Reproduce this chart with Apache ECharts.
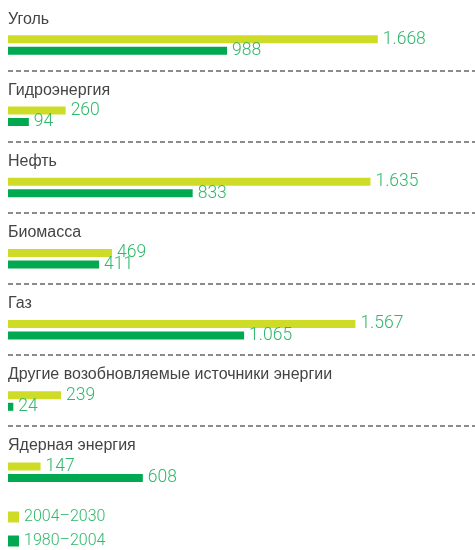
<!DOCTYPE html>
<html>
<head>
<meta charset="utf-8">
<script src="https://cdn.jsdelivr.net/npm/echarts@6/dist/echarts.min.js"></script>
<style>html,body{margin:0;padding:0;background:#fff}#c{width:475px;height:550px}</style>
</head>
<body>
<div id="c"></div>
<script>
const categories = ['Уголь', 'Гидроэнергия', 'Нефть', 'Биомасса', 'Газ', 'Другие возобновляемые источники энергии', 'Ядерная энергия'];
const seriesNames = ['2004–2030', '1980–2004'];
const values2004_2030 = [1668, 260, 1635, 469, 1567, 239, 147];
const values1980_2004 = [988, 94, 833, 411, 1065, 24, 608];

const YELLOW = '#cedc28';
const GREEN = '#00a94f';
const LABEL_GREEN = '#2fb86a';
const FONT = 'Roboto, "Liberation Sans", sans-serif';
const CAT_FONT = '"Liberation Sans", Arial, sans-serif';

function fmt(v) {
  if (v >= 1000) {
    const r = v % 1000;
    return Math.floor(v / 1000) + '.' + String(r).padStart(3, '0');
  }
  return String(v);
}

const band = 71.2;
const topB = -2.2;
const chart = echarts.init(document.getElementById('c'), null, {renderer: 'canvas'});
const barLabel = {
  show: true, position: 'right', distance: 5,
  color: LABEL_GREEN, fontSize: 17.5, fontFamily: FONT, fontWeight: 300,
  formatter: p => fmt(p.value)
};
chart.setOption({
  animation: false,
  legend: {
    data: seriesNames,
    orient: 'vertical', left: 8, top: 509, bottom: 0, padding: 0,
    itemWidth: 11, itemHeight: 11, itemGap: 8,
    icon: 'rect',
    textStyle: {color: LABEL_GREEN, fontSize: 16, fontFamily: FONT, fontWeight: 300, lineHeight: 16}
  },
  grid: [
    {left: 8, right: 23.6, top: topB + 11.65, height: band * categories.length, containLabel: false},
    {left: 8, right: 0, top: topB, height: band * categories.length, containLabel: false}
  ],
  xAxis: [
    {gridIndex: 0, type: 'value', min: 0, max: 2000, show: false},
    {gridIndex: 1, type: 'value', min: 0, max: 1, show: false}
  ],
  yAxis: [
    {gridIndex: 0, type: 'category', data: categories, inverse: true, show: false},
    {
      gridIndex: 1, type: 'category', data: categories, inverse: true,
      axisLine: {show: false}, axisTick: {show: false},
      splitLine: {show: true, showMinLine: false, showMaxLine: false,
        lineStyle: {color: '#666', width: 1.5, type: [5, 3]}},
      axisLabel: {
        inside: true, margin: 0, align: 'left', verticalAlign: 'bottom',
        lineHeight: 31,
        color: '#444', fontSize: 16, fontFamily: CAT_FONT, fontWeight: 400
      }
    }
  ],
  series: [
    {
      name: seriesNames[0], type: 'bar', xAxisIndex: 0, yAxisIndex: 0,
      data: values2004_2030, barWidth: 8, barGap: '43.75%',
      itemStyle: {color: YELLOW}, label: barLabel
    },
    {
      name: seriesNames[1], type: 'bar', xAxisIndex: 0, yAxisIndex: 0,
      data: values1980_2004, barWidth: 8, barGap: '43.75%',
      itemStyle: {color: GREEN}, label: barLabel
    }
  ]
});
</script>
</body>
</html>
